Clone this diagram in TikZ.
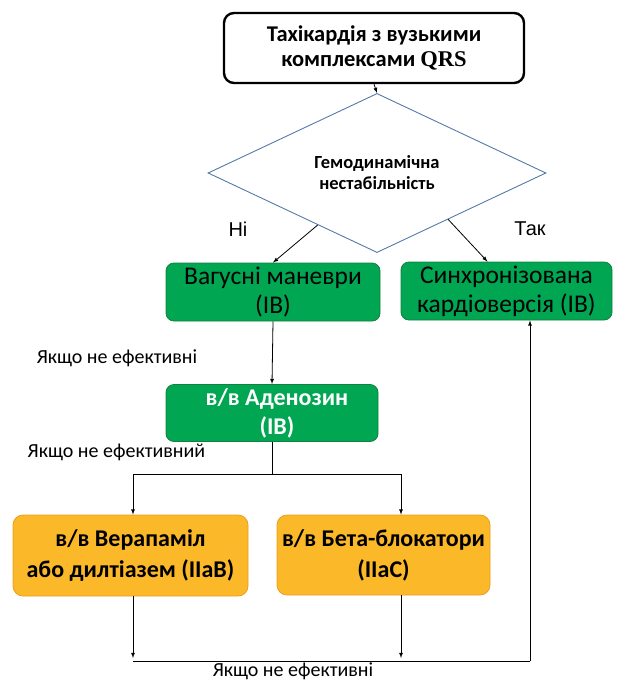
\documentclass[tikz,border=0pt]{standalone}
\usepackage{fontspec}
\setmainfont{Carlito}
\newfontfamily\qrsfont{Liberation Serif}
\newfontfamily\arialfont{Liberation Sans}
\usetikzlibrary{arrows,shapes.geometric,calc}
\definecolor{boxgreen}{RGB}{0,166,81}
\definecolor{boxgreenedge}{RGB}{18,128,62}
\definecolor{boxorange}{RGB}{251,184,41}
\definecolor{boxorangeedge}{RGB}{235,160,30}
\definecolor{diaedge}{RGB}{84,122,168}
\tikzset{>=latex}
\tikzset{
  startbox/.style={draw,line width=2.4pt,rounded corners=10pt,align=center,inner sep=0pt,font=\bfseries\fontsize{22.5}{25}\selectfont},
  decision/.style={diamond,draw=diaedge,line width=0.9pt,align=center,inner sep=0pt,font=\bfseries\fontsize{18.5}{21}\selectfont},
  greenbox/.style={draw=boxgreenedge,fill=boxgreen,line width=0.8pt,rounded corners=8pt,align=center,inner sep=0pt,font=\fontsize{25.5}{29}\selectfont},
  orangebox/.style={draw=boxorangeedge,fill=boxorange,line width=0.8pt,rounded corners=10pt,align=center,inner sep=0pt,font=\bfseries\fontsize{24}{31}\selectfont},
  note/.style={font=\fontsize{20}{22}\selectfont},
  answer/.style={font=\arialfont\fontsize{20}{22}\selectfont},
  flow/.style={line width=0.8pt}
}

\begin{document}
\begin{tikzpicture}[x=1pt,y=-1pt]
  \useasboundingbox (0,0) rectangle (617,680);

  % Vertices
  \node[startbox,minimum width=300,minimum height=70] (start) at (374,48) {Тахікардія з вузькими\\комплексами {\qrsfont QRS}};
  \node[decision,minimum width=338,minimum height=94] (dia) at (377,173) {Гемодинамічна\\нестабільність};
  \node[greenbox,minimum width=214,minimum height=58] (vagal) at (273,292) {Вагусні маневри\\(IB)};
  \node[greenbox,minimum width=211,minimum height=58] (cardio) at (506.5,291) {Синхронізована\\кардіоверсія (IB)};
  \node[greenbox,minimum width=212,minimum height=57,text=white,font=\bfseries\fontsize{24}{29}\selectfont] (adeno) at (272,413) {\hspace*{10pt}в/в Аденозин\\\hspace*{10pt}(IB)};
  \node[orangebox,minimum width=235,minimum height=81] (verap) at (130.5,555.5) {в/в Верапаміл\\або дилтіазем (IIaB)};
  \node[orangebox,minimum width=213,minimum height=80] (beta) at (383.5,555) {в/в Бета-блокатори\\(IIaC)};

  \coordinate (j1) at (133,474);
  \coordinate (j2) at (401,474);
  \coordinate (k1) at (133,661);
  \coordinate (k2) at (401,661);
  \coordinate (k3) at (530,661);

  % Lines
  \draw[flow,->] (start.south) -- (dia.north);
  \draw[flow,->] ($(dia.west)!0.65!(dia.south)$) -- (vagal.north);
  \draw[flow,->] ($(dia.east)!0.58!(dia.south)$) -- ($(cardio.north)+(-19,0)$);
  \draw[flow,->] (vagal.south) -- (adeno.north);
  \draw[flow] (adeno.south) -- (adeno.south |- j1);
  \draw[flow] (j1) -- (j2);
  \draw[flow,->] (j1) -- (j1 |- verap.north);
  \draw[flow,->] (j2) -- (j2 |- beta.north);
  \draw[flow,->] (k1 |- verap.south) -- ($(k1)+(0,-3)$);
  \draw[flow,->] (k2 |- beta.south) -- ($(k2)+(0,-3)$);
  \draw[flow] (k1) -- (k3);
  \draw[flow,->] (k3) -- (k3 |- cardio.south);

  % Labels
  \node[answer] (no) at (238,229) {Ні};
  \node[answer] (yes) at (530,229) {Так};
  \node[note] (fail1) at (117,358) {Якщо не ефективні};
  \node[note] (fail2) at (116.5,452) {Якщо не ефективний};
  \node[note] (fail3) at (293,671) {Якщо не ефективні};
\end{tikzpicture}
\end{document}
